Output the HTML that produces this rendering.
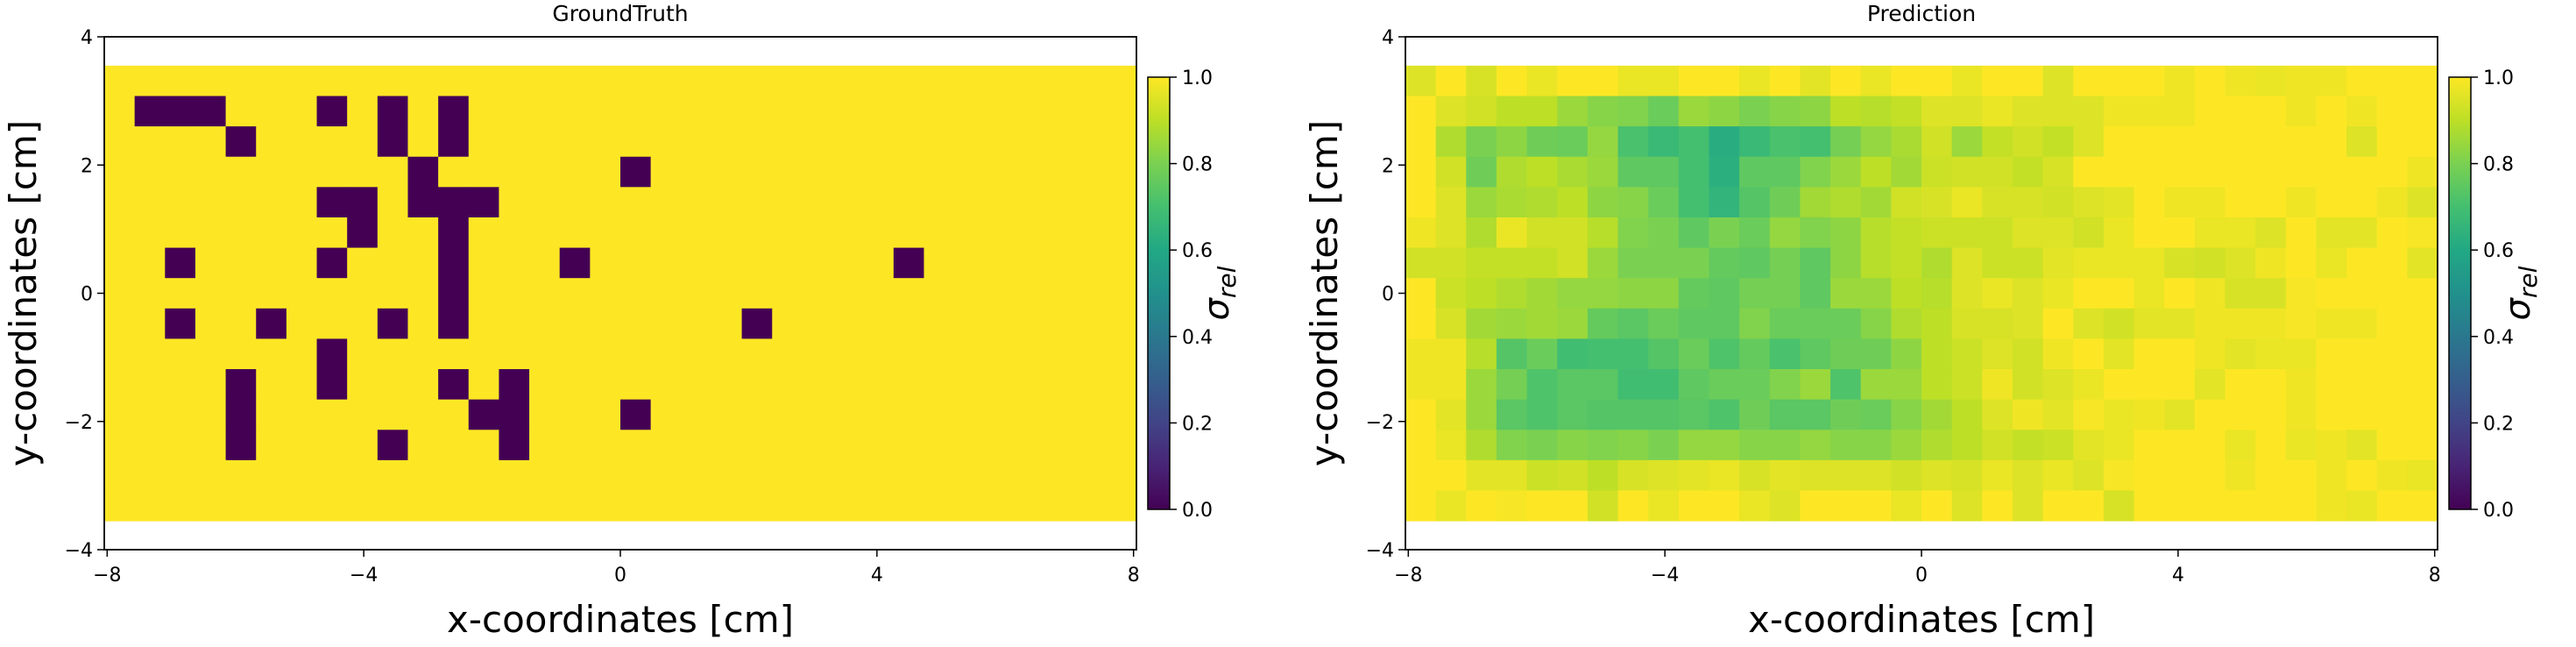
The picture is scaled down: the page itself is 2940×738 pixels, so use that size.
<!DOCTYPE html>
<html><head><meta charset="utf-8"><style>
html,body{margin:0;padding:0;background:#fff;}
svg text{font-family:"DejaVu Sans","Liberation Sans",sans-serif;fill:#000;}
</style></head><body>
<svg id="fig" xmlns="http://www.w3.org/2000/svg" width="2940" height="733" viewBox="0 0 2940 733">
<defs>
<linearGradient id="vir" x1="0" y1="1" x2="0" y2="0">
<stop offset="0" stop-color="#440154"/><stop offset="0.1" stop-color="#482475"/><stop offset="0.2" stop-color="#414487"/><stop offset="0.3" stop-color="#355f8d"/><stop offset="0.4" stop-color="#2a788e"/><stop offset="0.5" stop-color="#21918c"/><stop offset="0.6" stop-color="#22a884"/><stop offset="0.7" stop-color="#44bf70"/><stop offset="0.8" stop-color="#7ad151"/><stop offset="0.9" stop-color="#bddf26"/><stop offset="1" stop-color="#fde725"/>
</linearGradient>
</defs>
</svg>
<script>
const xTicks=[-8,-4,0,4,8];
const yTicks=[-4,-2,0,2,4];
const cbTicks=[0,0.2,0.4,0.6,0.8,1.0];
const cbTickLabels=["0.0","0.2","0.4","0.6","0.8","1.0"];
const nCols=34, nRows=15;
const gtRows=[
"1111111111111111111111111111111111",
"1000111010101111111111111111111111",
"1111011110101111111111111111111111",
"1111111111011111101111111111111111",
"1111111001000111111111111111111111",
"1111111101101111111111111111111111",
"1101111011101110111111111101111111",
"1111111111101111111111111111111111",
"1101101110101111111110111111111111",
"1111111011111111111111111111111111",
"1111011011101011111111111111111111",
"1111011111110011101111111111111111",
"1111011110111011111111111111111111",
"1111111111111111111111111111111111",
"1111111111111111111111111111111111"];
const predRows=[
[0.95,1.0,0.94,1.0,0.97,1.0,1.0,0.97,0.97,1.0,1.0,0.97,1.0,0.96,1.0,0.97,1.0, 1.0,0.97,1.0,1.0,0.95,1.0,1.0,1.0,0.98,1.0,0.98,0.97,0.98,0.98,1.0,1.0,1.0],
[1.0,0.95,0.93,0.9,0.9,0.85,0.82,0.81,0.77,0.85,0.83,0.8,0.82,0.83,0.9,0.89,0.91, 0.95,0.95,0.97,0.95,0.95,0.95,0.98,0.98,0.98,1.0,1.0,1.0,0.98,1.0,0.98,1.0,1.0],
[1.0,0.88,0.8,0.83,0.78,0.77,0.84,0.71,0.67,0.7,0.62,0.67,0.71,0.7,0.79,0.84,0.87, 0.93,0.85,0.91,0.93,0.91,0.95,1,1,1,1,1,1,1,1,0.95,1,1],
[1.0,0.93,0.78,0.88,0.9,0.87,0.85,0.75,0.75,0.7,0.63,0.75,0.75,0.81,0.85,0.9,0.86, 0.92,0.93,0.93,0.91,0.94,1,1,1,1,1,1,1,1,1,1,1,0.98],
[1.0,0.95,0.85,0.87,0.88,0.9,0.83,0.82,0.77,0.7,0.65,0.73,0.78,0.86,0.88,0.86,0.93, 0.94,0.97,0.94,0.94,0.93,0.95,0.96,1,0.98,0.98,1,1,0.98,1,1,0.98,0.95],
[0.98,0.95,0.88,0.97,0.93,0.93,0.89,0.81,0.8,0.75,0.8,0.77,0.84,0.81,0.83,0.89,0.91, 0.92,0.92,0.92,0.95,0.95,0.93,0.97,1,1,0.97,0.97,0.95,1,0.96,0.96,1,0.99],
[0.93,0.93,0.91,0.91,0.91,0.93,0.85,0.8,0.8,0.8,0.76,0.75,0.79,0.75,0.83,0.89,0.91, 0.88,0.95,0.92,0.92,0.96,0.97,0.97,0.97,0.94,0.93,0.95,0.98,1,0.97,1,1,0.96],
[1.0,0.92,0.9,0.88,0.86,0.84,0.84,0.83,0.83,0.76,0.75,0.79,0.79,0.75,0.85,0.85,0.9, 0.89,0.95,0.97,0.95,0.97,1,1,0.97,1,0.98,0.94,0.94,0.99,1,1,1,1],
[1.0,0.94,0.86,0.85,0.86,0.85,0.76,0.74,0.77,0.75,0.75,0.81,0.77,0.77,0.77,0.82,0.88, 0.9,0.94,0.94,0.95,1,0.95,0.93,0.96,0.96,0.98,0.98,0.98,0.99,0.98,0.98,1,1],
[0.98,0.98,0.89,0.73,0.77,0.69,0.7,0.7,0.73,0.77,0.72,0.76,0.71,0.75,0.78,0.78,0.83, 0.9,0.92,0.95,0.93,0.98,1,0.96,1,1,0.98,0.96,0.97,0.97,1,1,1,1],
[0.98,0.98,0.85,0.79,0.72,0.74,0.74,0.69,0.69,0.75,0.77,0.77,0.81,0.85,0.72,0.85,0.85, 0.9,0.92,0.98,0.93,0.95,0.97,1,1,1,0.96,1,1,0.98,1,1,1,1],
[1.0,0.96,0.85,0.74,0.72,0.74,0.73,0.73,0.73,0.74,0.72,0.78,0.74,0.74,0.78,0.77,0.82, 0.86,0.9,0.95,0.98,0.96,0.99,0.97,0.98,0.96,1,1,1,0.98,1,1,1,1],
[1.0,0.97,0.88,0.81,0.8,0.82,0.81,0.82,0.8,0.84,0.84,0.82,0.82,0.84,0.82,0.82,0.85, 0.88,0.9,0.93,0.91,0.92,0.96,0.97,1,1,1,0.97,1,0.97,0.98,0.96,1,1],
[1.0,1.0,0.96,0.96,0.92,0.93,0.9,0.94,0.95,0.96,0.97,0.94,0.96,0.95,0.95,0.95,0.93, 0.95,0.94,0.97,0.95,0.97,0.95,0.99,1,1,1,0.98,1,1,0.98,1,0.98,0.97],
[1.0,0.97,1.0,0.99,1.0,1.0,0.93,1.0,0.97,1.0,1.0,0.97,0.95,1.0,1.0,1.0,0.97, 1,0.95,1,0.95,1,1,0.94,1,1,1,1,1,1,0.98,0.97,1,1]];

const NS="http://www.w3.org/2000/svg";
const svg=document.getElementById('fig');
const VS=[[0,[68,1,84]],[0.1,[72,36,117]],[0.2,[65,68,135]],[0.3,[53,95,141]],[0.4,[42,120,142]],[0.5,[33,145,140]],[0.6,[34,168,132]],[0.7,[68,191,112]],[0.8,[122,209,81]],[0.9,[189,223,38]],[1,[253,231,37]]];
function viridis(v){v=Math.max(0,Math.min(1,v));for(let i=0;i<VS.length-1;i++){const a=VS[i],b=VS[i+1];if(v<=b[0]){const t=(v-a[0])/(b[0]-a[0]);const c=a[1].map((x,k)=>Math.round(x+(b[1][k]-x)*t));return `rgb(${c[0]},${c[1]},${c[2]})`;}}return 'rgb(253,231,37)';}
function mk(tag,attrs,parent){const e=document.createElementNS(NS,tag);for(const k in attrs)e.setAttribute(k,attrs[k]);(parent||svg).appendChild(e);return e;}

const XLIM=[-8.045,8.045], YLIM=[-4,4], EXT_X=[-8.045,8.045], EXT_Y=[-3.55,3.55];
function panel(x0,x1,y0,y1,title,getVal,cbx,prefix){
  const sx=v=>x0+(v-XLIM[0])/(XLIM[1]-XLIM[0])*(x1-x0);
  const sy=v=>y1-(v-YLIM[0])/(YLIM[1]-YLIM[0])*(y1-y0);
  const g=mk('g',{});
  
  
  const cw=(EXT_X[1]-EXT_X[0])/nCols, rh=(EXT_Y[1]-EXT_Y[0])/nRows;
  for(let r=0;r<nRows;r++)for(let c=0;c<nCols;c++){
    const xa=sx(EXT_X[0]+c*cw), xb=sx(EXT_X[0]+(c+1)*cw);
    const ya=sy(EXT_Y[1]-r*rh), yb=sy(EXT_Y[1]-(r+1)*rh);
    const cell=mk('rect',{x:xa,y:ya,width:xb-xa+0.5,height:yb-ya+0.5,fill:viridis(getVal(r,c))},g);
    
    
  }
  const fr=mk('rect',{x:x0,y:y0,width:x1-x0,height:y1-y0,fill:'none',stroke:'#000','stroke-width':1.8},g);
  
  
  xTicks.forEach(t=>{const x=sx(t);mk('line',{x1:x,x2:x,y1:y1,y2:y1+8,stroke:'#000','stroke-width':1.5},g);
    const tx=mk('text',{x:x,y:y1+36,'text-anchor':'middle','font-size':22},g);tx.textContent=(t<0?'\u2212'+(-t):String(t));
    
    });
  yTicks.forEach(t=>{const y=sy(t);mk('line',{x1:x0-8,x2:x0,y1:y,y2:y,stroke:'#000','stroke-width':1.5},g);
    const tx=mk('text',{x:x0-13,y:y+8,'text-anchor':'end','font-size':22},g);tx.textContent=(t<0?'\u2212'+(-t):String(t));
    
    });
  const tt=mk('text',{x:(x0+x1)/2,y:24,'text-anchor':'middle','font-size':25},g);tt.textContent=title;
  
  
  const xl=mk('text',{x:(x0+x1)/2,y:721,'text-anchor':'middle','font-size':42},g);xl.textContent='x-coordinates [cm]';
  
  
  const yl=mk('text',{x:0,y:0,'text-anchor':'middle','font-size':42,transform:`translate(${x0-78},${(y0+y1)/2}) rotate(-90)`},g);yl.textContent='y-coordinates [cm]';
  
  
  const cy0=88, cy1=581, cw2=25;
  const cb=mk('rect',{x:cbx,y:cy0,width:cw2,height:cy1-cy0,fill:'url(#vir)',stroke:'#000','stroke-width':1.5},g);
  
  
  cbTicks.forEach((t,i)=>{const y=cy1-t*(cy1-cy0);mk('line',{x1:cbx+cw2,x2:cbx+cw2+8,y1:y,y2:y,stroke:'#000','stroke-width':1.5},g);
    const tx=mk('text',{x:cbx+cw2+14,y:y+8,'font-size':22},g);tx.textContent=cbTickLabels[i];
    
    });
  const cl=mk('text',{x:0,y:0,'text-anchor':'middle','font-size':40,'font-style':'italic',transform:`translate(${cbx+92},${(cy0+cy1)/2}) rotate(-90)`},g);
  cl.innerHTML='σ<tspan font-size="28" dy="8">rel</tspan>';
  
  
}
panel(119,1297,42,627,'GroundTruth',(r,c)=>+gtRows[r][c],1310,'groundtruth');
panel(1604,2782,42,627,'Prediction',(r,c)=>predRows[r][c],2795,'prediction');
</script>
</body></html>
